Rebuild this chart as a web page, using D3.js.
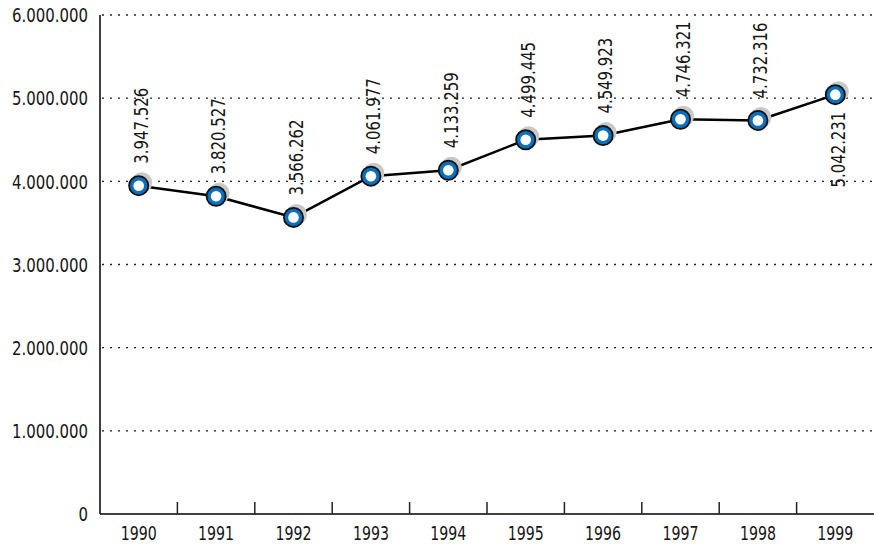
<!DOCTYPE html>
<html>
<head>
<meta charset="utf-8">
<script src="https://cdn.jsdelivr.net/npm/d3@7"></script>
<style>
  body { margin: 0; background: #fff; }
  text { font-family: "DejaVu Sans Condensed", "Liberation Sans Narrow", sans-serif; fill: #161616; }
</style>
</head>
<body>
<svg id="chart" width="874" height="544"></svg>
<script>
"use strict";

let years = ["1990", "1991", "1992", "1993", "1994", "1995", "1996", "1997", "1998", "1999"];
let values = [3947526, 3820527, 3566262, 4061977, 4133259, 4499445, 4549923, 4746321, 4732316, 5042231];
let y_ticks = [0, 1000000, 2000000, 3000000, 4000000, 5000000, 6000000];

let margin = {left: 100, right: 0, top: 15, bottom: 30};
let width = 874, height = 544;
let squeeze = 0.83; // narrow the font a bit, the original uses a condensed face

let svg = d3.select("#chart");

let x = d3.scaleBand().domain(years).range([margin.left, width - margin.right]);
let y = d3.scaleLinear().domain([0, 6000000]).range([height - margin.bottom, margin.top]);

// german style thousands
let fmt = d => d3.format(",")(d).replace(/,/g, ".");

// gridlines
svg.append("g").selectAll("line").data(y_ticks.filter(d => d > 0)).join("line")
    .attr("x1", margin.left + 2).attr("x2", width)
    .attr("y1", d => y(d)).attr("y2", d => y(d))
    .attr("stroke", "#222").attr("stroke-width", 1.4)
    .attr("stroke-dasharray", "2,6");

// y labels
svg.append("g").selectAll("text").data(y_ticks).join("text")
    .attr("transform", d => `translate(88,${y(d)}) scale(${squeeze},1)`)
    .attr("dy", "0.36em")
    .attr("text-anchor", "end").attr("font-size", 20)
    .text(d => fmt(d));

// axes lines
svg.append("line").attr("x1", margin.left).attr("x2", margin.left)
    .attr("y1", y(6000000)).attr("y2", y(0)).attr("stroke", "#000").attr("stroke-width", 1.5);
svg.append("line").attr("x1", margin.left).attr("x2", width)
    .attr("y1", y(0)).attr("y2", y(0)).attr("stroke", "#000").attr("stroke-width", 1.5);

// ticks between categories
svg.append("g").selectAll("line").data(years.slice(1)).join("line")
    .attr("x1", d => x(d)).attr("x2", d => x(d))
    .attr("y1", y(0)).attr("y2", y(0) - 12)
    .attr("stroke", "#222").attr("stroke-width", 1.5);

// x labels
svg.append("g").selectAll("text").data(years).join("text")
    .attr("transform", d => `translate(${x(d) + x.bandwidth() / 2},540) scale(${squeeze},1)`)
    .attr("text-anchor", "middle").attr("font-size", 19)
    .text(d => d);

let cx = (d, i) => x(years[i]) + x.bandwidth() / 2;

// line
let line = d3.line().x((d, i) => cx(d, i)).y(d => y(d));
svg.append("path").datum(values).attr("d", line)
    .attr("fill", "none").attr("stroke", "#000").attr("stroke-width", 2.5);

// markers
let pts = svg.append("g").selectAll("g").data(values).join("g")
    .attr("transform", (d, i) => `translate(${cx(d, i)},${y(d)})`);
pts.append("circle").attr("cx", 3).attr("cy", -3).attr("r", 10.5).attr("fill", "#c8c8c8");
pts.append("circle").attr("r", 9.6).attr("fill", "#0a70bd").attr("stroke", "#111").attr("stroke-width", 1.8);
pts.append("circle").attr("r", 5.3).attr("fill", "#fff");

// value labels, the last one hangs below its point
svg.append("g").selectAll("text").data(values).join("text")
    .attr("transform", (d, i) => {
        let last = i == values.length - 1;
        return `translate(${cx(d, i) + 2},${y(d) + (last ? 17 : -22)}) rotate(-90) scale(${squeeze},1)`;
    })
    .attr("text-anchor", (d, i) => i == values.length - 1 ? "end" : "start")
    .attr("dy", "0.36em").attr("font-size", 20)
    .text(d => fmt(d));
</script>
</body>
</html>
